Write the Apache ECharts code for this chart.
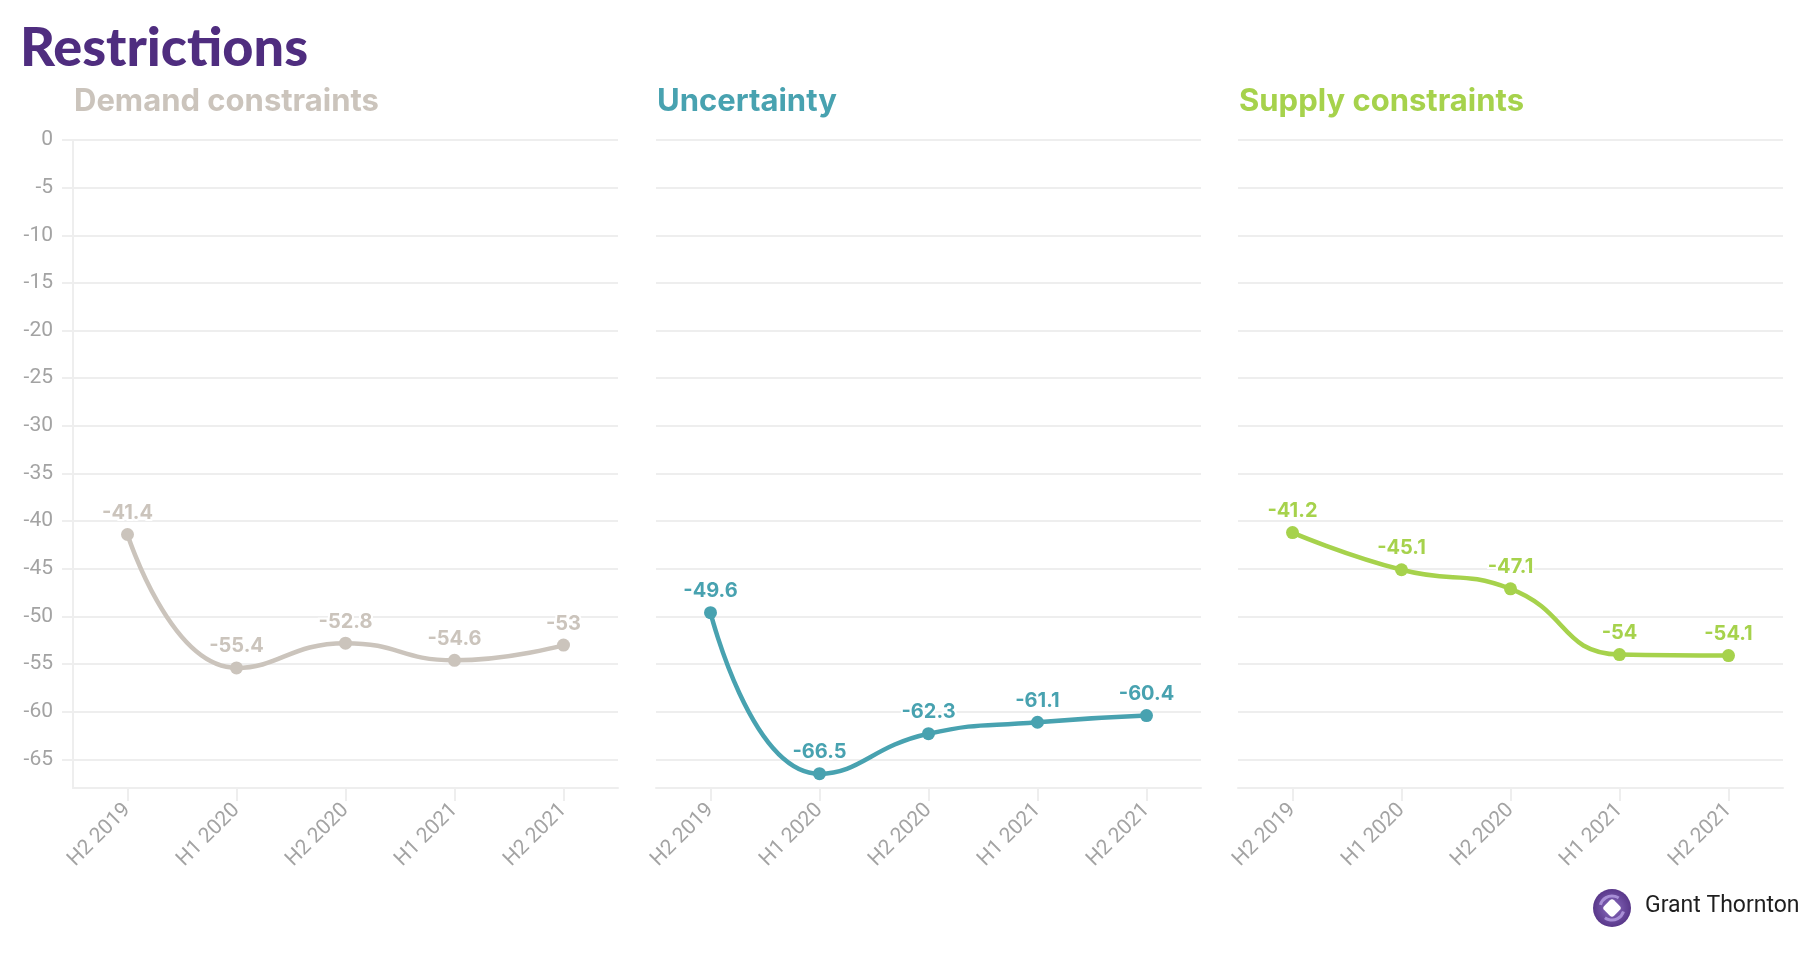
<!DOCTYPE html>
<html>
<head>
<meta charset="utf-8">
<script src="https://cdn.jsdelivr.net/npm/echarts@6/dist/echarts.min.js"></script>
<style>
html,body{margin:0;padding:0;background:#fff;}
#chart{width:1820px;height:956px;}
</style>
</head>
<body>
<div id="chart"></div>
<script>
const categories = ['H2 2019', 'H1 2020', 'H2 2020', 'H1 2021', 'H2 2021'];
const demand = [-41.4, -55.4, -52.8, -54.6, -53];
const uncertainty = [-49.6, -66.5, -62.3, -61.1, -60.4];
const supply = [-41.2, -45.1, -47.1, -54, -54.1];
const yTicks = [0, -5, -10, -15, -20, -25, -30, -35, -40, -45, -50, -55, -60, -65];
const panelTitles = ['Demand constraints', 'Uncertainty', 'Supply constraints'];
const panelColors = ['#cbc4bc', '#48a2b0', '#a6d24c'];
const panelData = [demand, uncertainty, supply];
const yMin = -68, yMax = 0;

const lefts = [73, 656, 1238];
const gridW = 545;
const gridTop = 140, gridBottom = 168;

const chart = echarts.init(document.getElementById('chart'));

const grids = [], xAxes = [], yAxes = [], series = [], graphics = [];
const headFont = 'Inter, Lato, "Noto Sans", sans-serif';
const titleFont = 'Lato, Inter, sans-serif';
const axisFont = 'Roboto, "Open Sans", sans-serif';

for (let i = 0; i < 3; i++) {
  grids.push({ left: lefts[i], width: gridW, top: gridTop, bottom: gridBottom, containLabel: false });
  xAxes.push({
    type: 'category', gridIndex: i, data: categories, boundaryGap: true,
    axisLine: { show: true, onZero: false, lineStyle: { color: '#eeeeee', width: 2 } },
    axisTick: { show: true, alignWithLabel: true, length: 13, lineStyle: { color: '#eeeeee', width: 2 } },
    axisLabel: { rotate: 45, color: '#a3a3a3', fontSize: 21, fontFamily: axisFont, margin: 19 },
    splitLine: { show: false }
  });
  yAxes.push({
    type: 'value', gridIndex: i, min: yMin, max: yMax, splitNumber: 14,
    axisLine: { show: i === 0, lineStyle: { color: '#eeeeee', width: 2 } },
    axisTick: { show: i === 0, length: 11, customValues: yTicks, lineStyle: { color: '#eeeeee', width: 2 } },
    axisLabel: {
      show: i === 0, color: '#a3a3a3', fontSize: 21, fontFamily: axisFont, margin: 20,
      customValues: yTicks,
      formatter: function (v) { return (Math.round(v) % 5 === 0) ? String(v) : ''; }
    },
    splitLine: { show: true, lineStyle: { color: '#eeeeee', width: 2 } }
  });
  series.push({
    type: 'line', xAxisIndex: i, yAxisIndex: i, data: panelData[i],
    smooth: 0.5, symbol: 'circle', symbolSize: 13,
    lineStyle: { color: panelColors[i], width: 4.5 },
    itemStyle: { color: panelColors[i] },
    label: {
      show: true, position: 'top', distance: 5,
      color: panelColors[i], fontSize: 20, fontWeight: 'bold', fontFamily: headFont,
      textBorderColor: '#ffffff', textBorderWidth: 4
    },
    emphasis: { disabled: true }
  });
  graphics.push({
    type: 'text', left: lefts[i] + 1, top: 86,
    style: { text: panelTitles[i], fill: panelColors[i], font: 'bold 31px ' + headFont }
  });
}

graphics.push({
  type: 'text', left: 20, top: 22,
  style: { text: 'Restrictions', fill: '#4f2d7f', font: '900 54px ' + titleFont }
});

// Grant Thornton logo
graphics.push({
  type: 'group', left: 1593, top: 889,
  children: [
    { type: 'circle', shape: { cx: 19, cy: 19, r: 19 },
      style: { fill: new echarts.graphic.RadialGradient(0.5, 0.5, 0.6, [
        { offset: 0, color: '#8a6cc0' }, { offset: 1, color: '#4f2d7f' }]) } },
    { type: 'arc', shape: { cx: 19, cy: 19, r: 12, startAngle: 0.3, endAngle: 2.2 },
      style: { stroke: '#a88fd6', lineWidth: 3, fill: null } },
    { type: 'arc', shape: { cx: 19, cy: 19, r: 12, startAngle: 3.4, endAngle: 5.3 },
      style: { stroke: '#a88fd6', lineWidth: 3, fill: null } },
    { type: 'rect', shape: { x: -7, y: -7, width: 14, height: 14, r: 3 },
      x: 19, y: 19, rotation: Math.PI / 4, style: { fill: '#ffffff' } }
  ]
});
graphics.push({
  type: 'text', left: 1645, top: 895,
  style: { text: 'Grant Thornton', fill: '#1f1f1f', font: '23px ' + axisFont }
});

chart.setOption({
  animation: false,
  backgroundColor: '#ffffff',
  grid: grids, xAxis: xAxes, yAxis: yAxes, series: series,
  graphic: graphics
});
</script>
</body>
</html>
